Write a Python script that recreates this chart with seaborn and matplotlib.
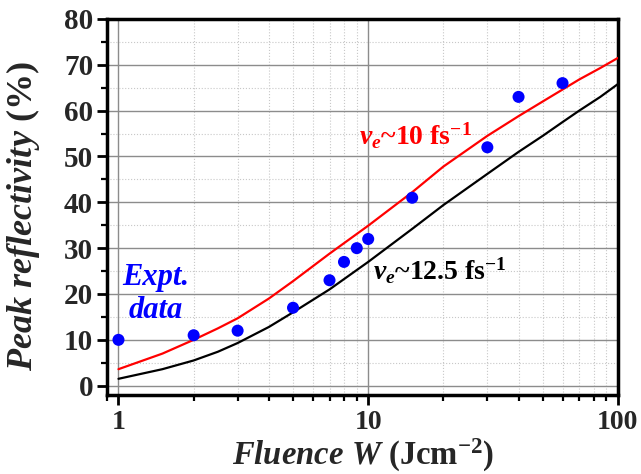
import numpy as np
import pandas as pd
import matplotlib
matplotlib.use("Agg")
import matplotlib.pyplot as plt
import seaborn as sns
from matplotlib.ticker import LogLocator, MultipleLocator, FixedLocator, NullFormatter, FixedFormatter

# ---- data ----
expt_fluence = [1, 2, 3, 5, 7, 8, 9, 10, 15, 30, 40, 60]
expt_reflect = [10, 11, 12, 17, 23, 27, 30, 32, 41, 52, 63, 66]

curve_fluence = [1, 1.5, 2, 2.5, 3, 4, 5, 7, 10, 15, 20, 30, 40, 50, 60, 70, 85, 100]
red_reflect = [3.6, 7.0, 10.0, 12.5, 14.7, 19.0, 22.8, 28.8, 34.9, 42.2, 47.8, 54.5,
               58.8, 62.0, 64.6, 66.8, 69.3, 71.5]                      # nu_e ~ 10 fs^-1
black_reflect = [1.5, 3.6, 5.5, 7.4, 9.3, 12.8, 16.0, 21.0, 27.0, 34.2, 39.4, 46.2,
                 51.0, 54.5, 57.5, 60.0, 63.0, 65.8]                    # nu_e ~ 12.5 fs^-1

x_ticks = [1, 10, 100]
x_ticklabels = ["1", "10", "100"]
y_ticks = [0, 10, 20, 30, 40, 50, 60, 70, 80]

sns.set_theme(style="white")
plt.rcParams["font.family"] = ["Liberation Serif", "DejaVu Serif"]
plt.rcParams["font.weight"] = "bold"
plt.rcParams["mathtext.fontset"] = "custom"
plt.rcParams["mathtext.rm"] = "Liberation Serif:bold"
plt.rcParams["mathtext.it"] = "Liberation Serif:italic:bold"
plt.rcParams["mathtext.bf"] = "Liberation Serif:bold"

fig = plt.figure(figsize=(6.41, 4.74), dpi=100)
ax = fig.add_axes([0.167, 0.167, 0.797, 0.793])

curves = pd.DataFrame({"F": curve_fluence, "red": red_reflect, "black": black_reflect})
expt = pd.DataFrame({"F": expt_fluence, "R": expt_reflect})

sns.lineplot(data=curves, x="F", y="red", color="#ff0000", lw=1.6, ax=ax, zorder=3)
sns.lineplot(data=curves, x="F", y="black", color="black", lw=1.6, ax=ax, zorder=3)
sns.scatterplot(data=expt, x="F", y="R", color="#0000ff", s=75, edgecolor="none", ax=ax, zorder=4)

ax.set_xscale("log")
ax.set_xlim(0.9, 100)
ax.set_ylim(-2, 80)

ax.xaxis.set_major_locator(FixedLocator(x_ticks))
ax.xaxis.set_major_formatter(FixedFormatter(x_ticklabels))
ax.xaxis.set_minor_locator(LogLocator(base=10, subs=np.arange(2, 10)))
ax.xaxis.set_minor_formatter(NullFormatter())
ax.yaxis.set_major_locator(FixedLocator(y_ticks))
ax.yaxis.set_minor_locator(MultipleLocator(5))

ax.grid(which="major", color="#8c8c8c", lw=1.0, ls="-")
ax.grid(which="minor", color="#c8c8c8", lw=0.8, ls=":")
ax.set_axisbelow(True)

for s in ax.spines.values():
    s.set_color("black")
    s.set_linewidth(2.5)

ax.tick_params(which="major", direction="out", length=7, width=2, color="black",
               labelsize=21, bottom=True, left=True, top=False, right=False, pad=3)
ax.tick_params(which="minor", direction="out", length=4.5, width=1.6, color="black",
               bottom=True, left=True, top=False, right=False)
for lab in ax.get_xticklabels() + ax.get_yticklabels():
    lab.set_fontweight("bold")
ax.tick_params(axis="x", pad=4, labelsize=20)

ax.set_xlabel(r"$\mathit{Fluence\ W}$ (Jcm$^{-2}$)", fontsize=23.5, fontweight="bold")
ax.xaxis.set_label_coords(0.5, -0.113)
ax.set_ylabel(r"$\mathit{Peak\ reflectivity}$ (%)", fontsize=26, fontweight="bold")
ax.yaxis.set_label_coords(-0.127, 0.476)

ax.text(1.41, 20.0, "Expt.\ndata", color="#0000ff", fontsize=22, fontweight="bold",
        fontstyle="italic", ha="center", va="center", linespacing=1.2)
ax.text(9.16, 52.5, r"$\nu_e$~10 fs$^{-1}$", color="#ff0000", fontsize=20,
        fontweight="bold", ha="left", va="baseline")
ax.text(10.5, 23.1, r"$\nu_e$~12.5 fs$^{-1}$", color="black", fontsize=20,
        fontweight="bold", ha="left", va="baseline")

fig.savefig("out.png", dpi=100)
